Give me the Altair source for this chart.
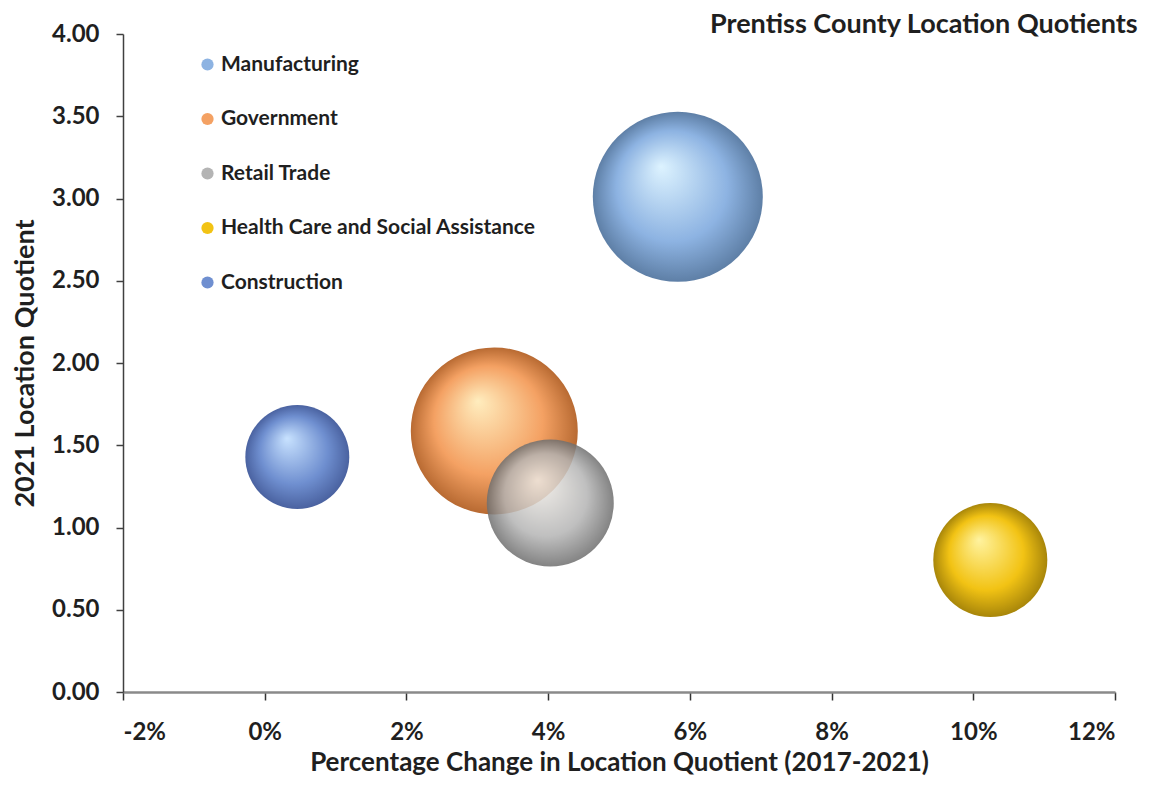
import altair as alt
import pandas as pd

categories = ["Manufacturing", "Government", "Retail Trade",
              "Health Care and Social Assistance", "Construction"]
pct_change = [0.0583, 0.0324, 0.0403, 0.1024, 0.0046]
lq_2021 = [3.01, 1.587, 1.149, 0.802, 1.429]
bubble_size = [100, 96.5, 55.8, 45.0, 37.4]

base_colors = ["#8DB3E2", "#F4A163", "#B4B4B4", "#F2C314", "#6F8FD0"]
light_colors = ["#DDF3FF", "#FFEDBE", "#F2EEE8", "#FFF3A0", "#C8E2FF"]
dark_colors = ["#5E7FA6", "#B86A32", "#6E6E6E", "#A8860A", "#4A62A0"]
opacities = [1.0, 1.0, 0.85, 1.0, 1.0]

df = pd.DataFrame({
    "category": categories,
    "pct": pct_change,
    "lq": lq_2021,
    "size": bubble_size,
})

FONT = "Lato"
TXT = "#1f1f1f"

x_enc = alt.X("pct:Q",
              scale=alt.Scale(domain=[-0.02, 0.12], nice=False, zero=False),
              axis=alt.Axis(values=[-0.02, 0, 0.02, 0.04, 0.06, 0.08, 0.10, 0.12],
                            labelExpr="(datum.value < 0 ? '-' : '') + format(abs(datum.value), '.0%')",
                            title="Percentage Change in Location Quotient (2017-2021)"))
y_enc = alt.Y("lq:Q",
              scale=alt.Scale(domain=[0, 4], nice=False),
              axis=alt.Axis(values=[0, 0.5, 1, 1.5, 2, 2.5, 3, 3.5, 4],
                            format=".2f",
                            title="2021 Location Quotient"))
size_enc = alt.Size("size:Q", scale=alt.Scale(domain=[0, 100], range=[0, 28900]),
                    legend=None)

legend_layer = alt.Chart(df).mark_circle(opacity=0).encode(
    x=x_enc, y=y_enc,
    color=alt.Color("category:N",
                    scale=alt.Scale(domain=categories, range=base_colors),
                    legend=alt.Legend(title=None, orient="none", legendX=74, legendY=20,
                                      symbolType="circle", symbolSize=150,
                                      symbolOpacity=1, symbolStrokeWidth=0,
                                      labelFont=FONT, labelFontSize=21,
                                      labelFontWeight="bold", labelColor=TXT,
                                      rowPadding=32.5, labelOffset=3, labelLimit=500)),
)

layers = [legend_layer]
for i, cat in enumerate(categories):
    grad = {
        "gradient": "radial",
        "x1": 0.4, "y1": 0.32, "r1": 0.0,
        "x2": 0.5, "y2": 0.5, "r2": 0.5,
        "stops": [
            {"offset": 0.0, "color": light_colors[i]},
            {"offset": 0.65, "color": base_colors[i]},
            {"offset": 1.0, "color": dark_colors[i]},
        ],
    }
    layer = alt.Chart(df).transform_filter(
        alt.datum.category == cat
    ).mark_circle(fill=grad, opacity=opacities[i], strokeWidth=0).encode(
        x=x_enc, y=y_enc, size=size_enc
    )
    layers.append(layer)

chart = alt.layer(*layers).properties(
    width=992, height=658,
    autosize=alt.AutoSizeParams(type="none"),
    padding={"left": 115, "top": 26, "right": 30, "bottom": 87},
    title=alt.TitleParams("Prentiss County Location Quotients", anchor="end",
                          font=FONT, fontSize=27, fontWeight="bold", color=TXT,
                          dx=22, offset=-17),
).configure_view(stroke=None).configure_axis(
    labelFont=FONT, labelFontSize=24, labelFontWeight="bold", labelColor=TXT,
    titleFont=FONT, titleFontSize=26, titleFontWeight="bold", titleColor=TXT,
    grid=False,
).configure_axisX(
    domainColor="#8a8a8a", domainWidth=2.5, tickColor="#333333", tickWidth=1.5,
    tickSize=8, labelPadding=20, titlePadding=5,
).configure_axisY(
    domainColor="#404040", domainWidth=1.5, tickColor="#404040", tickWidth=1.5,
    tickSize=7, labelPadding=17, titlePadding=12, titleFontSize=27,
)

chart.save("out.html", embed_options={"renderer": "svg", "actions": False})
